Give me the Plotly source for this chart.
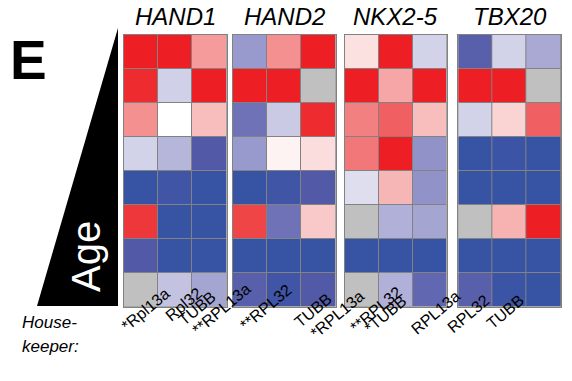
import math
import plotly.graph_objects as go

W, H = 572, 381

genes = ["HAND1", "HAND2", "NKX2-5", "TBX20"]
housekeepers = [
    ["*Rpl13a", "Rpl32", "TUBB"],
    ["**RPL13a", "**RPL32", "TUBB"],
    ["*RPL13a", "**RPL32", "*TUBB"],
    ["RPL13a", "RPL32", "TUBB"],
]
bold_flags = [
    [True, False, False],
    [True, True, False],
    [True, True, True],
    [False, False, False],
]
N = None  # not available (gray)
hand1 = [
    [1.0, 1.0, 0.5],
    [0.95, -0.3, 1.0],
    [0.55, 0.0, 0.35],
    [-0.28, -0.42, -0.85],
    [-1.0, -0.95, -1.0],
    [0.9, -1.0, -1.0],
    [-0.85, -1.0, -1.0],
    [N, -0.36, -0.5],
]
hand2 = [
    [-0.55, 0.55, 1.0],
    [1.0, 1.0, N],
    [-0.72, -0.33, 0.95],
    [-0.55, 0.05, 0.15],
    [-1.0, -0.95, -0.85],
    [0.85, -0.72, 0.3],
    [-1.0, -1.0, -1.0],
    [-0.82, -0.95, -0.85],
]
nkx25 = [
    [0.12, 1.0, -0.28],
    [1.0, 0.45, 1.0],
    [0.62, 0.75, 0.35],
    [0.66, 1.0, -0.58],
    [-0.18, 0.38, -0.58],
    [N, -0.45, -0.5],
    [-1.0, -1.0, -1.0],
    [N, -0.45, -0.78],
]
tbx20 = [
    [-0.82, -0.28, -0.48],
    [1.0, 1.0, N],
    [-0.28, 0.22, 0.75],
    [-1.0, -0.97, -1.0],
    [-1.0, -1.0, -1.0],
    [N, 0.4, 1.0],
    [-1.0, -1.0, -1.0],
    [-0.82, -0.97, -1.0],
]
panels = [hand1, hand2, nkx25, tbx20]

colorscale = [
    [0.0, "rgb(55,83,164)"],
    [0.075, "rgb(82,90,168)"],
    [0.15, "rgb(115,118,185)"],
    [0.25, "rgb(165,165,210)"],
    [0.35, "rgb(208,208,232)"],
    [0.45, "rgb(232,232,244)"],
    [0.5, "rgb(255,255,255)"],
    [0.56, "rgb(252,225,225)"],
    [0.65, "rgb(249,200,200)"],
    [0.75, "rgb(245,155,155)"],
    [0.85, "rgb(240,110,112)"],
    [0.95, "rgb(238,55,58)"],
    [1.0, "rgb(237,30,36)"],
]

# ---- layout constants (pixels) ----
px_x = [(124, 226.7), (233, 335.7), (345, 446.7), (458.3, 561)]
py_top, py_bot = 35, 306.7
label_dx = [[2, 5, 9], [3, 10, 16], [5, 9, 7], [18, 10, 8]]
label_top = [[312, 308, 312], [312, 310, 314], [317, 312, 317], [316, 317, 315]]
FONT = "Liberation Sans, Arial"
FONT_BOLD = "Liberation Sans Bold, Liberation Sans, Arial"
LAB_SIZE = 16
ANG = 40

W_REG = {'*': .389, 'R': .722, 'p': .556, 'l': .222, '1': .556, '3': .556, 'a': .556,
         'P': .667, 'L': .556, 'T': .611, 'U': .722, 'B': .667, '2': .556}
W_BOLD = {'*': .389, 'R': .722, 'p': .611, 'l': .278, '1': .556, '3': .556, 'a': .556,
          'P': .667, 'L': .611, 'T': .611, 'U': .722, 'B': .722, '2': .556}

fig = go.Figure()
for i, data in enumerate(panels):
    ax = "" if i == 0 else str(i + 1)
    na = [[1 if v is None else None for v in row] for row in data]
    fig.add_trace(go.Heatmap(
        z=na, x=[0, 1, 2], y=list(range(8)),
        colorscale=[[0, "#c0c0c0"], [1, "#c0c0c0"]], showscale=False,
        xgap=1, ygap=1, hoverinfo="skip",
        xaxis="x" + ax, yaxis="y" + ax))
    fig.add_trace(go.Heatmap(
        z=data, x=[0, 1, 2], y=list(range(8)),
        colorscale=colorscale, zmin=-1, zmax=1, showscale=False,
        xgap=1, ygap=1,
        xaxis="x" + ax, yaxis="y" + ax))
    l, r = px_x[i]
    fig.layout["xaxis" + ax] = dict(
        domain=[l / W, r / W], range=[-0.5, 2.5], showticklabels=False,
        automargin=False, showgrid=False, zeroline=False, showline=True,
        mirror=True, linecolor="rgb(130,130,130)", linewidth=1,
        anchor="y" + ax, fixedrange=True)
    fig.layout["yaxis" + ax] = dict(
        domain=[1 - py_bot / H, 1 - py_top / H], range=[7.5, -0.5],
        showticklabels=False, automargin=False, showgrid=False,
        zeroline=False, showline=True, mirror=True,
        linecolor="rgb(130,130,130)", linewidth=1,
        anchor="x" + ax, fixedrange=True)
    fig.add_annotation(
        x=(l + r) / 2 / W, y=1 - 17 / H, xref="paper", yref="paper",
        text=genes[i], showarrow=False,
        font=dict(family=FONT, size=24, color="black", style="italic"),
        xanchor="center", yanchor="middle")
    cw = (r - l) / 3
    for j, lab in enumerate(housekeepers[i]):
        bold = bold_flags[i][j]
        tbl = W_BOLD if bold else W_REG
        L = sum(tbl.get(c, .556) for c in lab) * LAB_SIZE
        hh = LAB_SIZE
        a = math.radians(ANG)
        bw = L * math.cos(a) + hh * math.sin(a)
        bh = L * math.sin(a) + hh * math.cos(a)
        right = l + cw * (j + 0.5) + label_dx[i][j]
        top = label_top[i][j]
        cx, cy = right - bw / 2, top + bh / 2
        fig.add_annotation(
            x=cx / W, y=1 - cy / H, xref="paper", yref="paper",
            text=lab, showarrow=False, textangle=-ANG,
            font=dict(family=FONT_BOLD if bold else FONT, size=LAB_SIZE,
                      color="black"))

def P(x, y):
    return f"{x / W},{1 - y / H}"

fig.add_shape(type="path", xref="paper", yref="paper",
              path=f"M {P(37, 306)} L {P(118, 306)} L {P(118, 28)} Z",
              fillcolor="black", line=dict(width=0))
fig.add_annotation(x=86 / W, y=1 - 257 / H, xref="paper", yref="paper",
                   text="Age", showarrow=False, textangle=-90,
                   font=dict(family=FONT, size=40, color="white"),
                   xanchor="center", yanchor="middle")
fig.add_annotation(x=28 / W, y=1 - 60 / H, xref="paper", yref="paper",
                   text="E", showarrow=False,
                   font=dict(family=FONT, size=55, color="black", weight="bold"),
                   xanchor="center", yanchor="middle")
fig.add_annotation(x=20 / W, y=1 - 322 / H, xref="paper", yref="paper",
                   text="House-", showarrow=False,
                   font=dict(family=FONT, size=17, color="black", style="italic"),
                   xanchor="left", yanchor="middle")
fig.add_annotation(x=20 / W, y=1 - 346 / H, xref="paper", yref="paper",
                   text="keeper:", showarrow=False,
                   font=dict(family=FONT, size=17, color="black", style="italic"),
                   xanchor="left", yanchor="middle")

fig.update_layout(width=W, height=H, margin=dict(l=0, r=0, t=0, b=0, autoexpand=False),
                  plot_bgcolor="rgb(130,130,130)", paper_bgcolor="white",
                  showlegend=False)
fig.write_html("out.html", config={"displayModeBar": False, "staticPlot": True},
               post_script="document.body.style.margin='0px';")
